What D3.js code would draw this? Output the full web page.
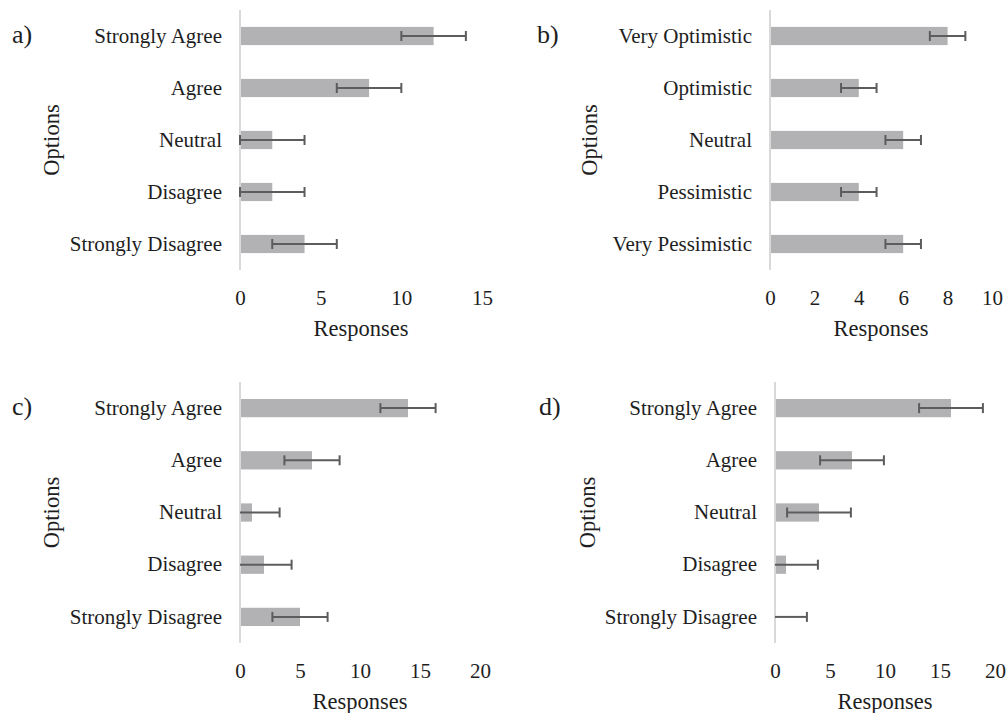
<!DOCTYPE html>
<html><head><meta charset="utf-8">
<script src="https://cdn.jsdelivr.net/npm/d3@7"></script>
<style>
html,body{margin:0;padding:0;background:#fff;}
svg text{font-family:"Liberation Serif","Times New Roman",serif;fill:#1e1e1e;}
</style></head>
<body>
<svg id="chart" width="1008" height="713"></svg>
<script>
const agreeCategories = ["Strongly Agree","Agree","Neutral","Disagree","Strongly Disagree"];
const optimismCategories = ["Very Optimistic","Optimistic","Neutral","Pessimistic","Very Pessimistic"];

const valuesA = [12, 8, 2, 2, 4];
const errorsA = [2, 2, 2, 2, 2];
const ticksA = [0, 5, 10, 15];

const valuesB = [8, 4, 6, 4, 6];
const errorsB = [0.8, 0.8, 0.8, 0.8, 0.8];
const ticksB = [0, 2, 4, 6, 8, 10];

const valuesC = [14, 6, 1, 2, 5];
const errorsC = [2.3, 2.3, 2.3, 2.3, 2.3];
const ticksC = [0, 5, 10, 15, 20];

const valuesD = [16, 7, 4, 1, 0];
const errorsD = [2.9, 2.9, 2.9, 2.9, 2.9];
const ticksD = [0, 5, 10, 15, 20];

const svg = d3.select("#chart");
const FONT = '"Liberation Serif","Times New Roman",serif';

const panels = [
  {letter:"a)", cats:agreeCategories, vals:valuesA, errs:errorsA, ticks:ticksA,
   x0:240, x1:482, y0:10, y1:270, letterX:12, titleX:52},
  {letter:"b)", cats:optimismCategories, vals:valuesB, errs:errorsB, ticks:ticksB,
   x0:770, x1:992, y0:10, y1:270, letterX:537, titleX:590},
  {letter:"c)", cats:agreeCategories, vals:valuesC, errs:errorsC, ticks:ticksC,
   x0:240, x1:480, y0:382, y1:643, letterX:12, titleX:52},
  {letter:"d)", cats:agreeCategories, vals:valuesD, errs:errorsD, ticks:ticksD,
   x0:775, x1:995, y0:382, y1:643, letterX:539, titleX:588}
];

panels.forEach(p => {
  const g = svg.append("g");
  const x = d3.scaleLinear().domain([p.ticks[0], p.ticks[p.ticks.length-1]]).range([p.x0, p.x1]);
  const y = d3.scaleBand().domain(p.cats).range([p.y0, p.y1]).paddingInner(0.65).paddingOuter(0.325);

  g.selectAll("rect.bar").data(p.vals).enter().append("rect")
    .attr("x", x(0))
    .attr("y", (d,i) => y(p.cats[i]))
    .attr("width", d => x(d) - x(0))
    .attr("height", y.bandwidth())
    .attr("fill", "#b2b2b5");

  g.append("line").attr("x1", x(0)).attr("x2", x(0))
    .attr("y1", p.y0).attr("y2", p.y1)
    .attr("stroke", "#d9d9d9").attr("stroke-width", 2);

  const capH = 10;
  p.vals.forEach((v,i) => {
    const cy = y(p.cats[i]) + y.bandwidth()/2;
    const lo = v - p.errs[i], hi = v + p.errs[i];
    const loC = Math.max(0, lo);
    const eg = g.append("g").attr("stroke", "#5c5c5c").attr("stroke-width", 2);
    eg.append("line").attr("x1", x(loC)).attr("x2", x(hi)).attr("y1", cy).attr("y2", cy);
    eg.append("line").attr("x1", x(hi)).attr("x2", x(hi)).attr("y1", cy-capH/2).attr("y2", cy+capH/2);
    if (lo >= -1e-9) {
      eg.append("line").attr("x1", x(loC)).attr("x2", x(loC)).attr("y1", cy-capH/2).attr("y2", cy+capH/2);
    }
  });

  const yAxis = d3.axisLeft(y).tickSize(0).tickPadding(18);
  const ya = g.append("g").attr("transform", `translate(${x(0)},0)`).call(yAxis);
  ya.select(".domain").remove();
  ya.selectAll("text").style("font-size", "21px").attr("fill", "#1e1e1e").style("font-family", FONT);

  const xAxis = d3.axisBottom(x).tickValues(p.ticks).tickSize(0).tickPadding(0).tickFormat(d3.format("d"));
  const xa = g.append("g").attr("transform", `translate(0,${p.y1 + 20})`).call(xAxis);
  xa.select(".domain").remove();
  xa.selectAll("text").style("font-size", "21px").attr("fill", "#1e1e1e").style("font-family", FONT);

  g.append("text").attr("x", (x(0) + x.range()[1]) / 2).attr("y", p.y1 + 66)
    .attr("text-anchor", "middle").style("font-size", "22.5px").text("Responses");

  g.append("text").attr("transform", `translate(${p.titleX + 7},${(p.y0 + p.y1)/2}) rotate(-90)`)
    .attr("text-anchor", "middle").style("font-size", "22.5px").text("Options");

  g.append("text").attr("x", p.letterX).attr("y", p.y0 + 33)
    .style("font-size", "26px").text(p.letter);
});
</script>
</body></html>
